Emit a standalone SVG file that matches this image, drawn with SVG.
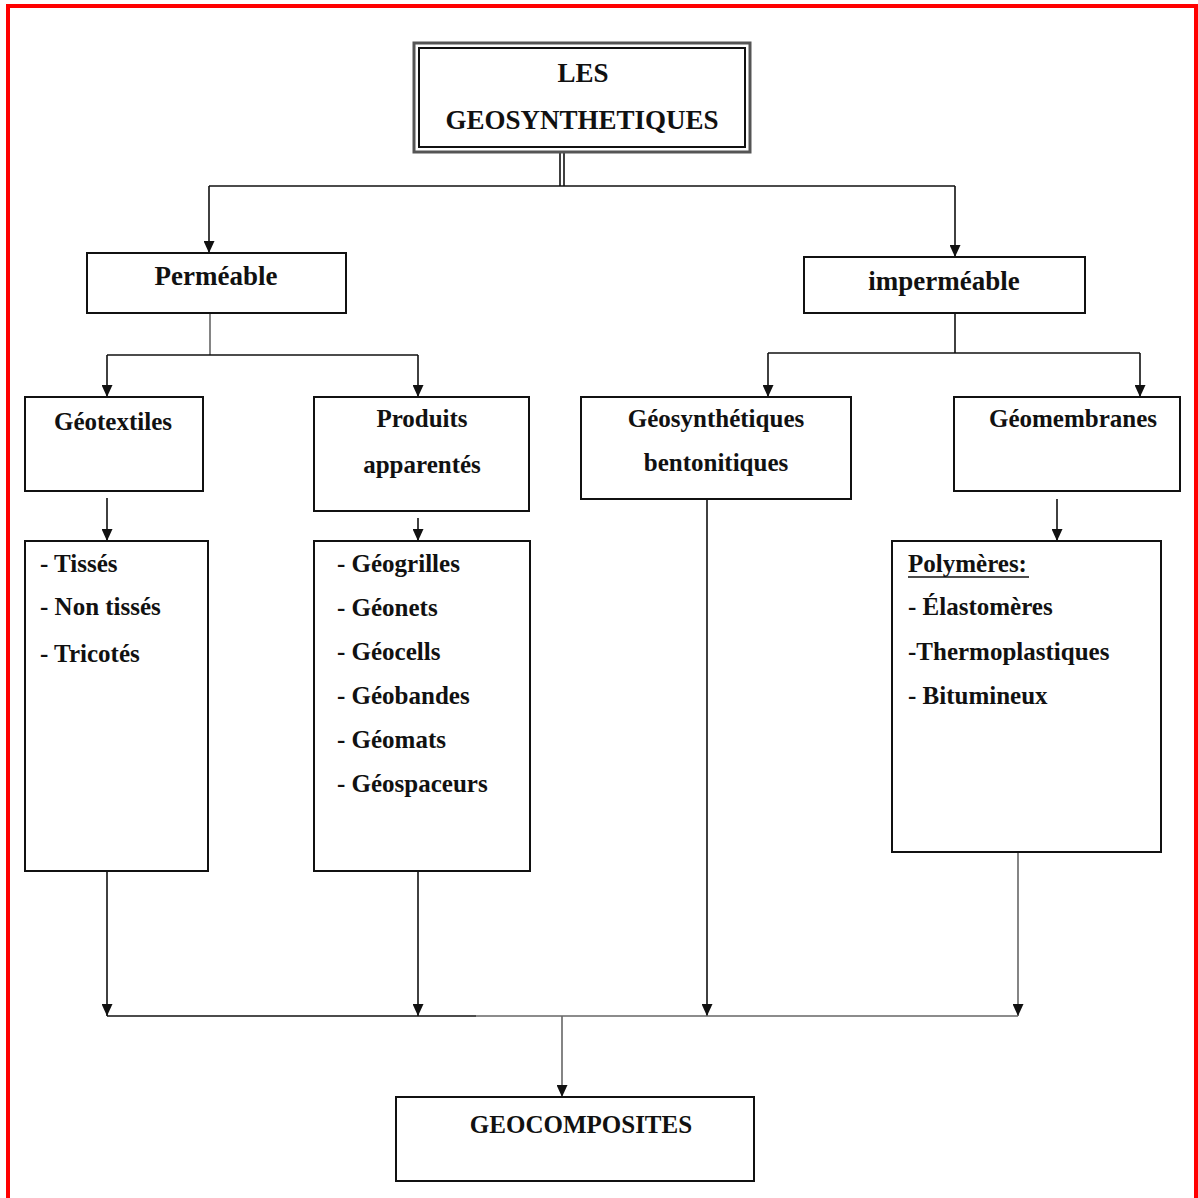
<svg xmlns="http://www.w3.org/2000/svg" width="1198" height="1198" viewBox="0 0 1198 1198">
<style>
  .box { fill: #fff; stroke: #111; stroke-width: 2; }
  .t { font-family: "Liberation Serif", "Times New Roman", serif; font-weight: bold; fill: #111; }
  .h1 { font-size: 27px; }
  .h2 { font-size: 25px; }
  .c { text-anchor: middle; }
  .conn line, .conn path { stroke: #111; stroke-width: 1.6; fill: none; }
  .conn .gray { stroke: #666; }
</style>
<defs>
  <marker id="arr" viewBox="0 0 12 11" markerWidth="12" markerHeight="11" refX="12" refY="5.5" orient="auto" markerUnits="userSpaceOnUse">
    <path d="M0,0 L12,5.5 L0,11 z" fill="#111"/>
  </marker>
</defs>
<rect x="0" y="0" width="1198" height="1198" fill="#fff"/>
<rect x="8" y="6" width="1188" height="1200" fill="none" stroke="#f00" stroke-width="4"/>

<g class="conn" id="connectors">
  <line x1="560" y1="152" x2="560" y2="186"/>
  <line x1="564" y1="152" x2="564" y2="186"/>
  <line x1="209" y1="186" x2="955" y2="186" stroke="#333"/>
  <line x1="209" y1="186" x2="209" y2="253" marker-end="url(#arr)"/>
  <line x1="955" y1="186" x2="955" y2="257" marker-end="url(#arr)"/>

  <line x1="210" y1="313" x2="210" y2="355" class="gray"/>
  <line x1="107" y1="355" x2="418" y2="355"/>
  <line x1="107" y1="355" x2="107" y2="397" marker-end="url(#arr)"/>
  <line x1="418" y1="355" x2="418" y2="397" marker-end="url(#arr)"/>

  <line x1="955" y1="313" x2="955" y2="353"/>
  <line x1="768" y1="353" x2="1140" y2="353"/>
  <line x1="768" y1="353" x2="768" y2="397" marker-end="url(#arr)"/>
  <line x1="1140" y1="353" x2="1140" y2="397" marker-end="url(#arr)"/>

  <line x1="107" y1="498" x2="107" y2="541" marker-end="url(#arr)"/>
  <line x1="418" y1="518" x2="418" y2="541" marker-end="url(#arr)"/>
  <line x1="1057" y1="499" x2="1057" y2="541" marker-end="url(#arr)"/>

  <line x1="107" y1="871" x2="107" y2="1016" marker-end="url(#arr)"/>
  <line x1="418" y1="871" x2="418" y2="1016" marker-end="url(#arr)"/>
  <line x1="707" y1="499" x2="707" y2="1016" marker-end="url(#arr)"/>
  <line x1="1018" y1="852" x2="1018" y2="1016" class="gray" marker-end="url(#arr)"/>
  <line x1="107" y1="1016" x2="476" y2="1016"/>
  <line x1="476" y1="1016" x2="1018" y2="1016" class="gray"/>
  <line x1="562" y1="1016" x2="562" y2="1097" class="gray" marker-end="url(#arr)"/>
</g>

<g id="n-title">
  <rect x="414" y="43" width="336" height="109" fill="#fff" stroke="#555" stroke-width="3"/>
  <rect x="419" y="48" width="326" height="99" fill="none" stroke="#111" stroke-width="2"/>
  <text class="t h1 c" x="583" y="82">LES</text>
  <text class="t h1 c" x="582" y="129">GEOSYNTHETIQUES</text>
</g>

<g id="n-permeable">
  <rect class="box" x="87" y="253" width="259" height="60"/>
  <text class="t h1 c" x="216" y="285">Perméable</text>
</g>

<g id="n-impermeable">
  <rect class="box" x="804" y="257" width="281" height="56"/>
  <text class="t h1 c" x="944" y="290">imperméable</text>
</g>

<g id="n-geotextiles">
  <rect class="box" x="25" y="397" width="178" height="94"/>
  <text class="t h2 c" x="113" y="430">Géotextiles</text>
</g>

<g id="n-produits">
  <rect class="box" x="314" y="397" width="215" height="114"/>
  <text class="t h2 c" x="422" y="427">Produits</text>
  <text class="t h2 c" x="422" y="473">apparentés</text>
</g>

<g id="n-bentonitiques">
  <rect class="box" x="581" y="397" width="270" height="102"/>
  <text class="t h2 c" x="716" y="427">Géosynthétiques</text>
  <text class="t h2 c" x="716" y="471">bentonitiques</text>
</g>

<g id="n-geomembranes">
  <rect class="box" x="954" y="397" width="226" height="94"/>
  <text class="t h2 c" x="1073" y="427">Géomembranes</text>
</g>

<g id="n-geotextiles-list">
  <rect class="box" x="25" y="541" width="183" height="330"/>
  <text class="t h2" x="40" y="572">- Tissés</text>
  <text class="t h2" x="40" y="615">- Non tissés</text>
  <text class="t h2" x="40" y="662">- Tricotés</text>
</g>

<g id="n-produits-list">
  <rect class="box" x="314" y="541" width="216" height="330"/>
  <text class="t h2" x="337" y="572">- Géogrilles</text>
  <text class="t h2" x="337" y="616">- Géonets</text>
  <text class="t h2" x="337" y="660">- Géocells</text>
  <text class="t h2" x="337" y="704">- Géobandes</text>
  <text class="t h2" x="337" y="748">- Géomats</text>
  <text class="t h2" x="337" y="792">- Géospaceurs</text>
</g>

<g id="n-polymeres">
  <rect class="box" x="892" y="541" width="269" height="311"/>
  <text class="t h2" x="908" y="572">Polymères:</text>
  <line x1="908" y1="577" x2="1029" y2="577" stroke="#111" stroke-width="1.6"/>
  <text class="t h2" x="908" y="615">- Élastomères</text>
  <text class="t h2" x="908" y="660">-Thermoplastiques</text>
  <text class="t h2" x="908" y="704">- Bitumineux</text>
</g>

<g id="n-geocomposites">
  <rect class="box" x="396" y="1097" width="358" height="84"/>
  <text class="t h2 c" x="581" y="1133">GEOCOMPOSITES</text>
</g>
</svg>
